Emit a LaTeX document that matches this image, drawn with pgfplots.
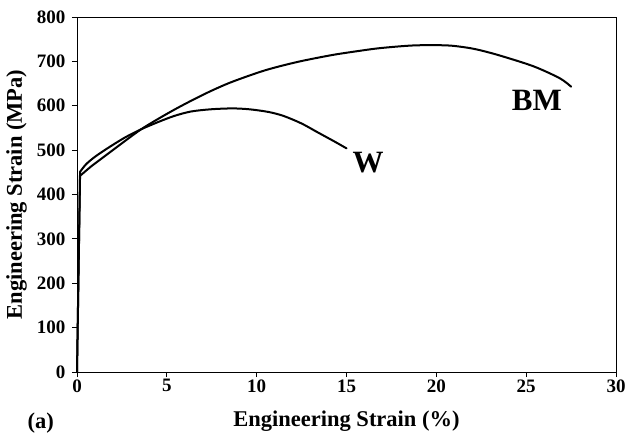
\documentclass[border=0pt]{standalone}
\usepackage{fontspec}
\setmainfont{Liberation Serif}
\usepackage{pgfplots}
\pgfplotsset{compat=1.18}
\begin{document}
\begin{tikzpicture}
\begin{axis}[scale only axis,width=539pt,height=355pt,
  xmin=0,xmax=30,ymin=0,ymax=800,
  xtick={0,5,...,30},ytick={0,100,...,800},
  xtick pos=left,ytick pos=left,tick align=outside,major tick length=5pt,
  axis line style={line width=0.8pt},
  tick style={line width=0.8pt,black},
  /pgf/number format/assume math mode=true,
  ticklabel style={font=\bfseries\fontsize{19}{19}\selectfont},
  yticklabel style={xshift=-3pt},
  xticklabel style={yshift=1pt},
  xlabel={Engineering Strain (\%)},
  ylabel={Engineering Strain (MPa)},
  every axis x label/.style={at={(axis description cs:0.5,0)},yshift=-54pt,anchor=base,font=\bfseries\fontsize{22.5}{23}\selectfont},
  every axis y label/.style={at={(axis description cs:0,0.5)},xshift=-55pt,rotate=90,anchor=base,font=\bfseries\fontsize{22.5}{23}\selectfont},
  clip=false]
  % elastic parts
  \addplot[black,line width=2pt,line cap=round] coordinates {(0,0)(0.17,442)};
  \addplot[black,line width=2pt,line cap=round] coordinates {(0,0)(0.17,451)};
  % BM
  \addplot[black,line width=2pt,line cap=round,smooth] coordinates {
    (0.17,442)(0.81,464)(1.73,492)(2.65,520)(3.57,547)(4.5,570)(5.41,591)
    (6.34,611)(7.44,633)(8.64,654)(10.48,680)(12.3,699)(14.16,714)(15.6,723)
    (16.9,730)(18.77,736)(20.6,736)(21.7,731)(22.45,725)(23.55,713)
    (25.4,689)(26.87,662)(27.5,643)};
  % W
  \addplot[black,line width=2pt,line cap=round,smooth] coordinates {
    (0.17,451)(0.5,468)(1.0,485)(1.73,505)(2.65,528)(3.57,547)(4.5,563)(5.41,577)
    (6.34,587)(7.44,592)(8.64,594)(9.6,592)(10.66,586)(11.5,577)
    (12.5,560)(13.4,540)(14.35,519)(15.0,504)};
  \node[font=\bfseries\fontsize{31}{31}\selectfont] at (axis cs:25.6,613) {BM};
  \node[font=\bfseries\fontsize{31}{31}\selectfont] at (axis cs:16.2,471) {W};
\end{axis}
\node[anchor=base west,font=\bfseries\fontsize{22.5}{23}\selectfont] at (-53pt,-56pt) {(a)};
\pgfresetboundingbox
\path[use as bounding box] (-77pt,-62pt) rectangle (551pt,372pt);
\end{tikzpicture}
\end{document}
